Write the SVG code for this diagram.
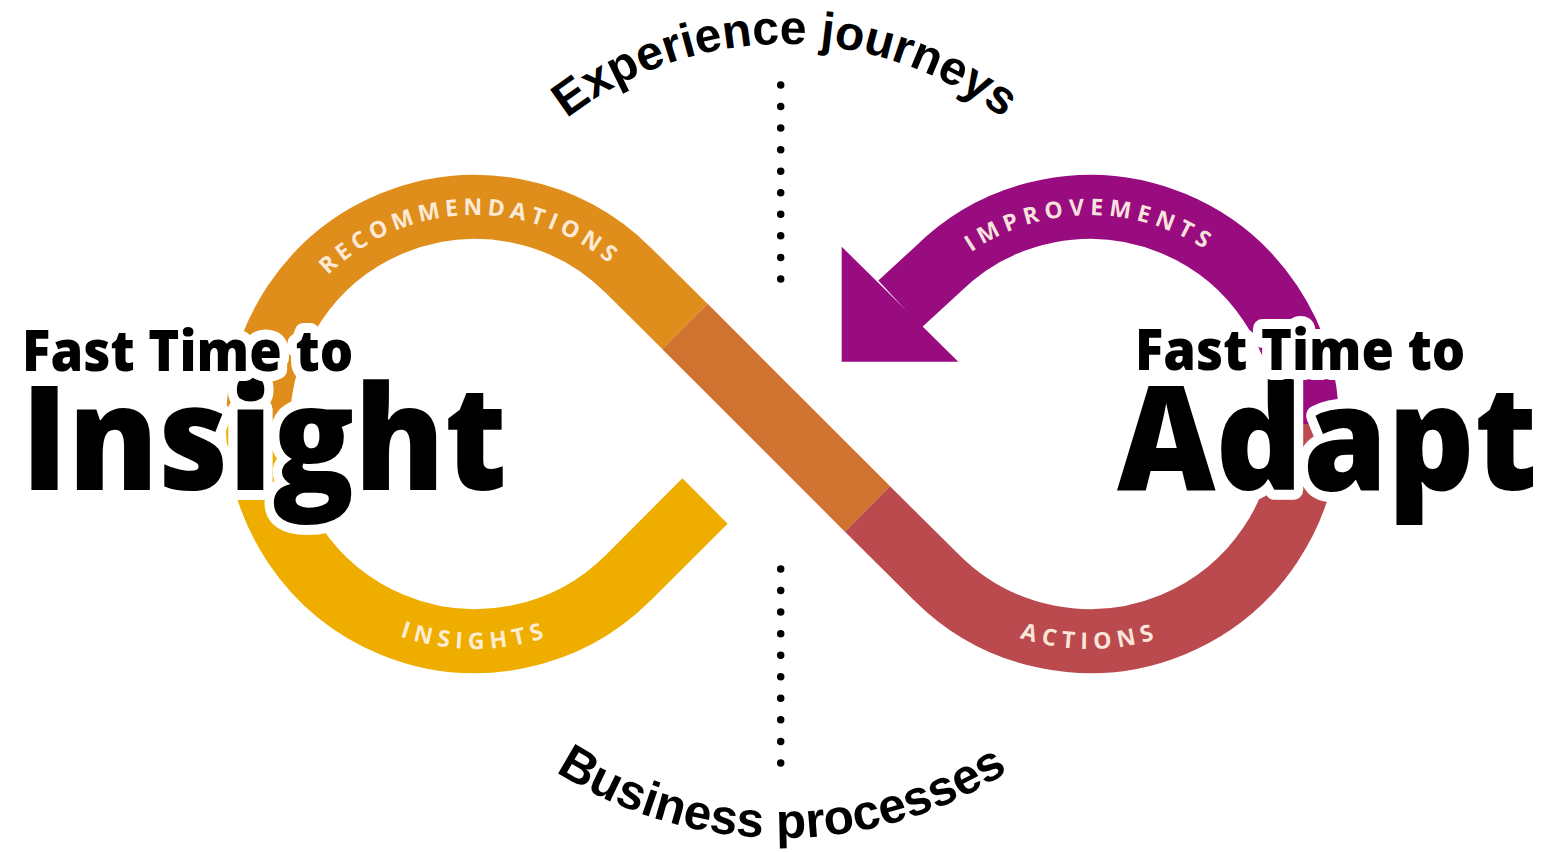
<svg xmlns="http://www.w3.org/2000/svg" width="1548" height="852" viewBox="0 0 1548 852">
  <defs>
    <path id="arcTop" d="M 428 401 A 357 357 0 0 1 1142 401"/>
    <path id="arcBottom" d="M 363 419 A 419 419 0 0 0 1201 419"/>
    <path id="arcRec" d="M 266 424 A 209 209 0 0 1 684 424"/>
    <path id="arcImp" d="M 881 424 A 209 209 0 0 1 1299 424"/>
    <path id="arcIns" d="M 250 424 A 225 225 0 0 0 700 424"/>
    <path id="arcAct" d="M 865 424 A 225 225 0 0 0 1315 424"/>
    <style>
      .band { fill: none; stroke-width: 64; stroke-linecap: butt; stroke-linejoin: miter; }
      .lbl { font-family: "Open Sans", "Liberation Sans", sans-serif; font-weight: 700; font-size: 23px; fill: #FFF1E2; fill-opacity: 0.94; }
      .curve { font-family: "Liberation Sans", Arial, sans-serif; font-weight: 700; fill: #000; }
      .big { font-family: "Open Sans", "Liberation Sans", sans-serif; font-weight: 800; fill: #000; stroke: #fff; stroke-width: 20; stroke-linejoin: round; paint-order: stroke; }
      .dots { fill: none; stroke: #000; stroke-width: 7.5; stroke-linecap: round; stroke-dasharray: 0 21.55; }
    </style>
  </defs>
  <rect width="1548" height="852" fill="#fff"/>

  <g id="connectors">
    <g id="loop-left">
      <path class="band" stroke="#EFAD00" d="M 258 424 A 217 217 0 0 0 628.5 577.5 L 705 501"/>
      <path class="band" stroke="#E08E1B" d="M 258 424 A 217 217 0 0 1 628.5 270.5 L 685 326.5"/>
    </g>
    <g id="crossing">
      <path class="band" stroke="#D07230" d="M 685 326.5 L 867.5 509"/>
    </g>
    <g id="loop-right">
      <path class="band" stroke="#BB4A4F" d="M 867.5 509 L 936.5 577.5 A 217 217 0 0 0 1307 424"/>
      <path class="band" stroke="#990C80" d="M 1307 424 A 217 217 0 0 0 936.5 270.5 L 900 304"/>
      <polygon fill="#990C80" points="841.7,246.7 958.3,361.7 841.7,361.7"/>
    </g>
  </g>

  <g id="band-labels">
    <text class="lbl" letter-spacing="4.9"><textPath href="#arcRec" startOffset="49%" text-anchor="middle">RECOMMENDATIONS</textPath></text>
    <text class="lbl" letter-spacing="5.7"><textPath href="#arcImp" startOffset="50%" text-anchor="middle">IMPROVEMENTS</textPath></text>
    <text class="lbl" letter-spacing="5.8"><textPath href="#arcIns" startOffset="50%" text-anchor="middle">INSIGHTS</textPath></text>
    <text class="lbl" letter-spacing="6"><textPath href="#arcAct" startOffset="50%" text-anchor="middle">ACTIONS</textPath></text>
  </g>

  <g id="divider">
    <path class="dots" d="M 780.7 85 L 780.7 281"/>
    <path class="dots" d="M 780.7 569 L 780.7 765"/>
  </g>

  <g id="experience-journeys">
    <text class="curve" font-size="48"><textPath href="#arcTop" startOffset="50%" text-anchor="middle">Experience journeys</textPath></text>
  </g>
  <g id="business-processes">
    <text class="curve" font-size="49.5"><textPath href="#arcBottom" startOffset="50%" text-anchor="middle">Business processes</textPath></text>
  </g>

  <g id="insight">
    <text class="big" transform="translate(21 490) scale(0.9 1)" x="0" y="0" font-size="146" textLength="540" lengthAdjust="spacingAndGlyphs">Insight</text>
    <text class="big" transform="translate(22 371) scale(0.9 1)" x="0" y="0" font-size="56" textLength="368" lengthAdjust="spacingAndGlyphs">Fast Time to</text>
  </g>
  <g id="adapt">
    <text class="big" transform="translate(1117 490) scale(0.9 1)" x="0" y="0" font-size="146" textLength="467" lengthAdjust="spacingAndGlyphs">Adapt</text>
    <text class="big" transform="translate(1135 370) scale(0.9 1)" x="0" y="0" font-size="56" textLength="367" lengthAdjust="spacingAndGlyphs">Fast Time to</text>
  </g>
</svg>
